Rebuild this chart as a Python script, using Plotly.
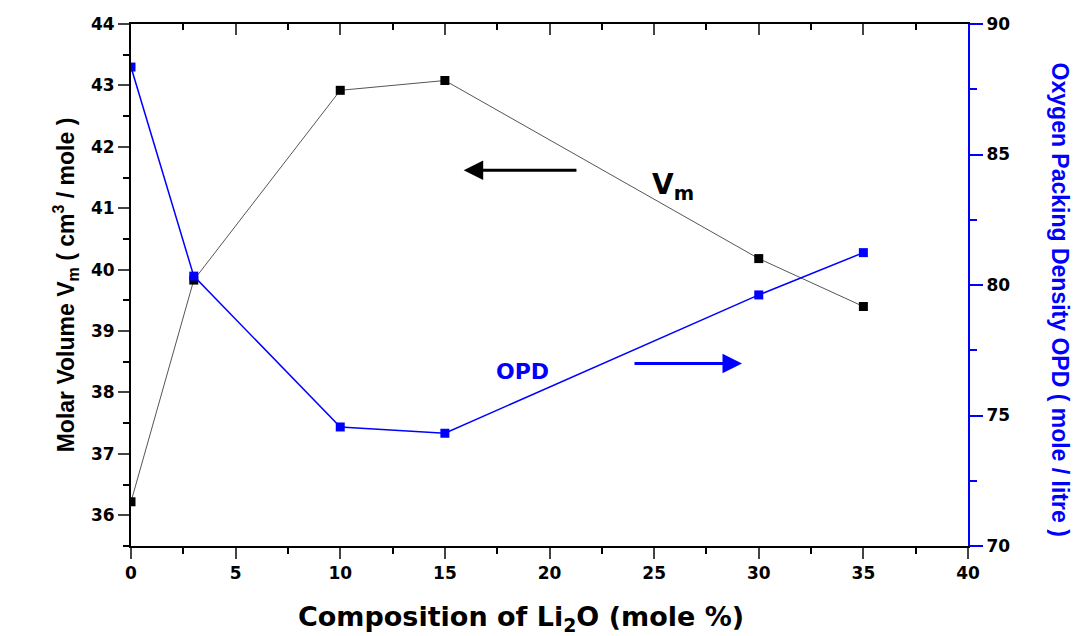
import plotly.graph_objects as go

composition = [0, 3, 10, 15, 30, 35]
molar_volume = [36.22, 39.83, 42.92, 43.08, 40.18, 39.40]
opd = [88.35, 80.34, 74.56, 74.32, 79.62, 81.24]

x_ticks = [0, 5, 10, 15, 20, 25, 30, 35, 40]
left_ticks = [36, 37, 38, 39, 40, 41, 42, 43, 44]
right_ticks = [70, 75, 80, 85, 90]

FONT = "Liberation Sans"
HEAVY = "DejaVu Sans"
BLUE = "#0000ff"

fig = go.Figure()
fig.add_trace(go.Scatter(
    x=composition, y=molar_volume, mode="lines+markers",
    line=dict(color="#555555", width=1),
    marker=dict(symbol="square", size=9, color="black"),
    showlegend=False, yaxis="y"))
fig.add_trace(go.Scatter(
    x=composition, y=opd, mode="lines+markers",
    line=dict(color=BLUE, width=1.5),
    marker=dict(symbol="square", size=9, color=BLUE),
    showlegend=False, yaxis="y2"))
# invisible trace to activate top axis
fig.add_trace(go.Scatter(x=[0], y=[40], mode="markers", marker=dict(opacity=0),
                         xaxis="x2", yaxis="y", showlegend=False, hoverinfo="skip"))

tickfont = dict(family=HEAVY, size=17, color="black", weight="bold")

fig.update_layout(
    width=1075, height=636,
    margin=dict(l=131, r=107, t=24, b=90),
    plot_bgcolor="white", paper_bgcolor="white",
    xaxis=dict(range=[0, 40], tickvals=x_ticks, ticks="outside", ticklen=11, tickwidth=2,
               showline=True, linecolor="black", linewidth=2, showgrid=False, zeroline=False,
               tickfont=tickfont, automargin=False,
               minor=dict(ticks="outside", ticklen=6, tickwidth=2, dtick=2.5, tickcolor="black")),
    xaxis2=dict(range=[0, 40], overlaying="x", side="top", tickvals=x_ticks, ticks="inside",
                ticklen=11, tickwidth=2, showticklabels=False, showline=True, linecolor="black",
                linewidth=2, showgrid=False, zeroline=False, automargin=False,
                minor=dict(ticks="inside", ticklen=6, tickwidth=2, dtick=2.5, tickcolor="black")),
    yaxis=dict(range=[35.5, 44], tickvals=left_ticks, ticks="outside", ticklen=11, tickwidth=2,
               showline=True, linecolor="black", linewidth=2, showgrid=False, zeroline=False,
               tickfont=tickfont, automargin=False,
               minor=dict(ticks="outside", ticklen=6, tickwidth=2, dtick=0.5, tickcolor="black"),
               title=dict(text="Molar Volume V<sub>m</sub> ( cm<sup>3</sup> / mole )",
                          font=dict(family=FONT, size=23, color="black", weight="bold"),
                          standoff=10)),
    yaxis2=dict(range=[70, 90], tickvals=right_ticks, overlaying="y", side="right",
                ticks="outside", ticklen=13, tickwidth=2, tickcolor=BLUE,
                showline=True, linecolor=BLUE, linewidth=2, showgrid=False, zeroline=False,
                tickfont=tickfont, automargin=False,
                minor=dict(ticks="outside", ticklen=7, tickwidth=2, dtick=2.5, tickcolor=BLUE)),
)

# x axis title
fig.add_annotation(text="Composition of Li<sub>2</sub>O (mole %)", xref="paper", yref="paper",
                   x=0.466, y=0, yshift=-72, showarrow=False, xanchor="center", yanchor="middle",
                   font=dict(family=HEAVY, size=27, color="black", weight="bold"))

# right axis title, reading top-to-bottom
fig.add_annotation(text="Oxygen Packing Density OPD ( mole / litre )", xref="paper", yref="paper",
                   x=1.0, xshift=92, y=0.472, textangle=90, showarrow=False, xanchor="center",
                   font=dict(family=FONT, size=23, color=BLUE, weight="bold"))

# arrows
fig.add_annotation(x=15.9, y=41.62, ax=21.36, ay=41.62, xref="x", yref="y", axref="x", ayref="y",
                   text="", showarrow=True, arrowhead=2, arrowsize=1.3, arrowwidth=3, arrowcolor="black")
fig.add_annotation(x=29.2, y=38.47, ax=23.99, ay=38.47, xref="x", yref="y", axref="x", ayref="y",
                   text="", showarrow=True, arrowhead=2, arrowsize=1.3, arrowwidth=3, arrowcolor=BLUE)

fig.add_annotation(x=25.9, y=41.35, xref="x", yref="y", text="V<sub>m</sub>", showarrow=False,
                   font=dict(family=HEAVY, size=28, color="black", weight="bold"))
fig.add_annotation(x=18.69, y=38.34, xref="x", yref="y", text="OPD", showarrow=False,
                   font=dict(family=HEAVY, size=22, color=BLUE, weight="bold"))

fig.write_html("out.html")
